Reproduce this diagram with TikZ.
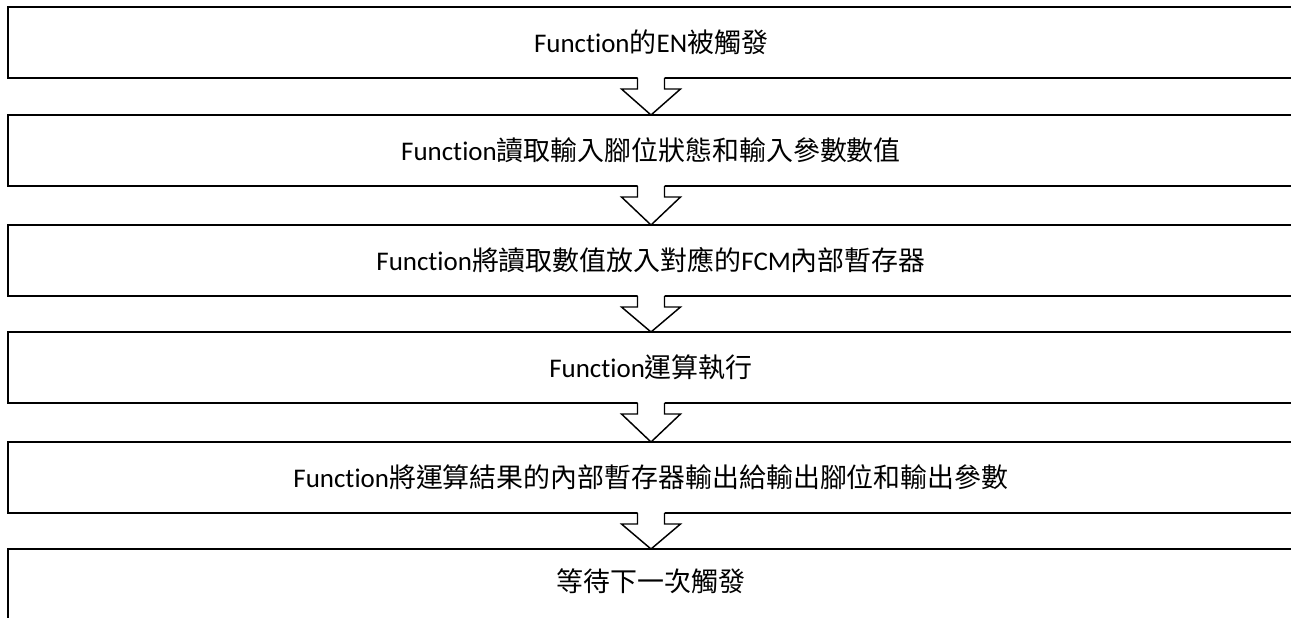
\documentclass[tikz,border=0pt]{standalone}
\usepackage{fontspec}
\setmainfont{Carlito}[Ligatures=NoCommon]
\newfontfamily\cjk{Noto Sans CJK TC}
\usetikzlibrary{calc}
\newcommand{\zh}[1]{{\cjk #1}}
\tikzset{
  stepbox/.style={draw=black, line width=1.5pt, fill=white, outer sep=0pt, inner sep=0pt,
    minimum width=964.5pt, minimum height=53.25pt,
    font=\fontsize{20.2}{24}\selectfont},
  arrowline/.style={draw=black, line width=1.1pt, line join=miter},
}
\newcommand{\blockarrow}[2]{%
  \fill[white] ($(#1.south)+(-13.5,-2)$) -- ($(#1.south)+(-13.5,11)$) -- ($(#1.south)+(-29.5,11)$) -- (#2.north)
     -- ($(#1.south)+(29.5,11)$) -- ($(#1.south)+(13.5,11)$) -- ($(#1.south)+(13.5,-2)$) -- cycle;
  \draw[arrowline] ($(#1.south)+(-13.5,0)$) -- ($(#1.south)+(-13.5,11)$) -- ($(#1.south)+(-29.5,11)$) -- (#2.north)
     -- ($(#1.south)+(29.5,11)$) -- ($(#1.south)+(13.5,11)$) -- ($(#1.south)+(13.5,0)$);}
\begin{document}
\begin{tikzpicture}[x=0.75pt,y=-0.75pt]
\useasboundingbox (0,0) rectangle (1291,617);
\clip (0,0) rectangle (1291,617);
\node[stepbox] (b1) at (651,42.5) {Function\zh{的}EN\zh{被觸發}};
\node[stepbox] (b2) at (651,150.5) {Function\zh{讀取輸入腳位狀態和輸入參數數值}};
\node[stepbox] (b3) at (651,260.5) {Function\zh{將讀取數值放入對應的}FCM\zh{內部暫存器}};
\node[stepbox] (b4) at (651,367.5) {Function\zh{運算執行}};
\node[stepbox] (b5) at (651,477.5) {Function\zh{將運算結果的內部暫存器輸出給輸出腳位和輸出參數}};
\node[stepbox] (b6) at (651,584.5) {\raisebox{6pt}{\zh{等待下一次觸發}}};
\blockarrow{b1}{b2}
\blockarrow{b2}{b3}
\blockarrow{b3}{b4}
\blockarrow{b4}{b5}
\blockarrow{b5}{b6}
\end{tikzpicture}
\end{document}
